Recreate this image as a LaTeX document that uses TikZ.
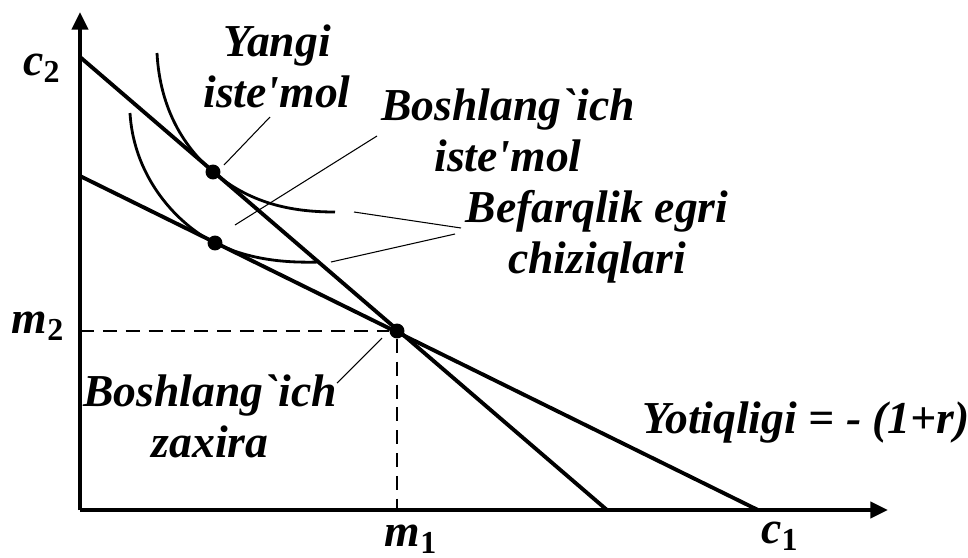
\documentclass[tikz,border=0pt]{standalone}
\usepackage{fontspec}
\setmainfont{Liberation Serif}[Ligatures=TeXOff]
\usetikzlibrary{arrows.meta}

\begin{document}
\begin{tikzpicture}[
  x=0.02cm, y=-0.02cm,
  >={Triangle[length=10pt,width=9pt]},
  every node/.style={font=\fontsize{26}{29}\selectfont\bfseries\itshape},
  axis/.style={line width=2.3pt},
  budget/.style={line width=2.2pt},
  indiff/.style={line width=1.6pt},
  leader/.style={line width=0.6pt},
  guide/.style={line width=1.3pt, dash pattern=on 8pt off 5pt},
  pt/.style={circle, fill, inner sep=0pt, minimum size=8.5pt},
  lbl/.style={align=center, inner sep=0pt}
]
\useasboundingbox (0,0) rectangle (968,558);

% axes
\coordinate (O) at (80,510);
\coordinate (ytip) at (80,12);
\coordinate (xtip) at (888,510);
\draw[axis,->] (O) -- (ytip);
\draw[axis,->] (O) -- (xtip);
\node (c2) at (42,68) {c\textsubscript{\upshape 2}};
\node (c1) at (780,536) {c\textsubscript{\upshape 1}};
\node (m2) at (38,326) {m\textsubscript{\upshape 2}};
\node (m1) at (411,539) {m\textsubscript{\upshape 1}};

% budget lines
\coordinate (s0) at (80,57);
\coordinate (s1) at (607,510);
\coordinate (b0) at (80,176);
\coordinate (b1) at (758,510);
\draw[budget] (s0) -- (s1);
\draw[budget] (b0) -- (b1);

% points
\node[pt] (E) at (397,331) {};
\node[pt] (N) at (213,172) {};
\node[pt] (B) at (215,243) {};
\coordinate (m2p) at (80,331);
\coordinate (m1p) at (397,510);
\draw[guide] (m2p) -- (E);
\draw[guide] (E) -- (m1p);

% indifference curves
\draw[indiff] (157,53) .. controls (160,110) and (185,148) .. (N.center)
  .. controls (250,203) and (290,212) .. (335,212);
\draw[indiff] (130,113) .. controls (134,180) and (180,226) .. (B.center)
  .. controls (250,260) and (285,263) .. (320,262);

% labels
\node[lbl] (yangi) at (277,66) {Yangi\\iste'mol};
\node[lbl] (boshi) at (508,130) {Boshlang`ich\\iste'mol};
\node[lbl] (befarq) at (597,237) {Befarqlik egri\\chiziqlari};
\node[lbl] (boshz) at (210,416) {Boshlang`ich\\zaxira};
\node[inner sep=0pt] (slope) at (806,423) {Yotiqligi = - (1+r)};

% leaders
\coordinate (ya) at (270,117);
\coordinate (yb) at (224,165);
\coordinate (ia) at (377,136);
\coordinate (ib) at (235,225);
\coordinate (fa) at (461,228);
\coordinate (fu) at (354,212);
\coordinate (fb) at (455,234);
\coordinate (fl) at (331,262);
\coordinate (za) at (337,383);
\coordinate (zb) at (382,338);
\draw[leader] (ya) -- (yb);
\draw[leader] (ia) -- (ib);
\draw[leader] (fu) -- (fa);
\draw[leader] (fl) -- (fb);
\draw[leader] (za) -- (zb);
\end{tikzpicture}
\end{document}
